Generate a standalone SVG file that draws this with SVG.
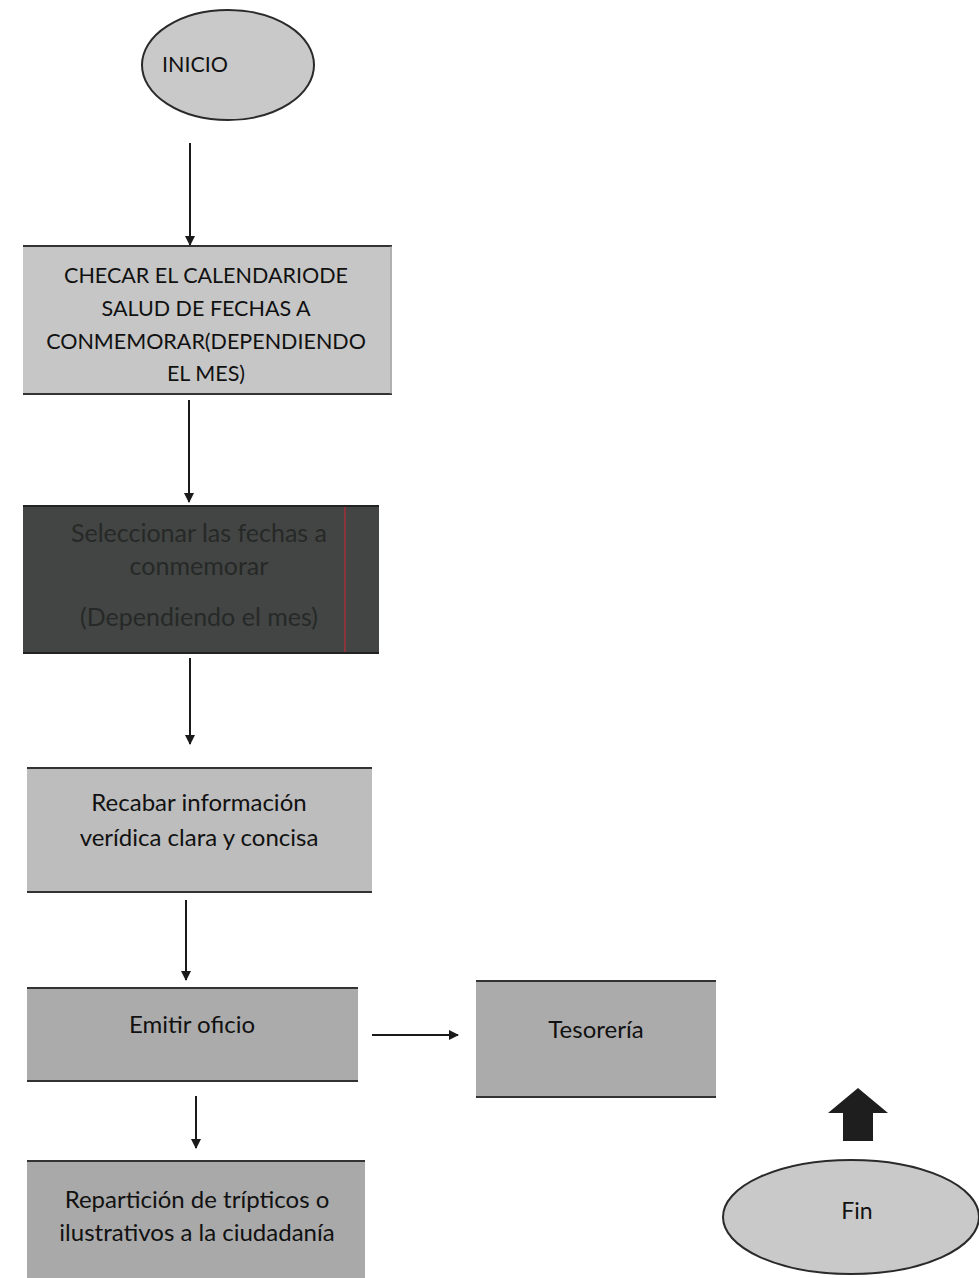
<svg xmlns="http://www.w3.org/2000/svg" width="979" height="1278" viewBox="0 0 979 1278">
<style>
.t{font-family:Lato,"Open Sans","Liberation Sans",sans-serif;font-size:24px;fill:#111;text-anchor:middle}
.c{font-size:21.5px}
.d{fill:#262927;font-size:25px}
.edge{stroke:#1a1a1a;stroke-width:2;fill:none}
.hl{stroke:#333;stroke-width:2}
.vl{stroke:#999;stroke-width:1}
.ell{fill:#c9c9c9;stroke:#2a2a2a;stroke-width:2}
</style>
<defs>
<marker id="ah" markerWidth="10" markerHeight="10" refX="9" refY="5" orient="auto" markerUnits="userSpaceOnUse">
<path d="M0,0 L10,5 L0,10 Z" fill="#1a1a1a"/>
</marker>
</defs>
<rect width="979" height="1278" fill="#fff"/>
<g id="connectors">
<line class="edge" x1="190" y1="143" x2="190" y2="245" marker-end="url(#ah)"/>
<line class="edge" x1="189" y1="400" x2="189" y2="502" marker-end="url(#ah)"/>
<line class="edge" x1="190" y1="658" x2="190" y2="744" marker-end="url(#ah)"/>
<line class="edge" x1="186" y1="900" x2="186" y2="980" marker-end="url(#ah)"/>
<line class="edge" x1="372" y1="1035" x2="458" y2="1035" marker-end="url(#ah)"/>
<line class="edge" x1="196" y1="1096" x2="196" y2="1148" marker-end="url(#ah)"/>
</g>
<g id="inicio">
<ellipse class="ell" cx="228" cy="65" rx="86" ry="55"/>
<text class="t c" x="195" y="72">INICIO</text>
</g>
<g id="checar">
<rect x="23" y="245" width="369" height="150" fill="#c6c6c6"/>
<line class="hl" x1="23" y1="246" x2="392" y2="246"/>
<line class="hl" x1="23" y1="394" x2="392" y2="394"/>
<line class="vl" x1="391" y1="246" x2="391" y2="394"/>
<text class="t c" x="206" y="283">CHECAR EL CALENDARIODE</text>
<text class="t c" x="206" y="316">SALUD DE FECHAS A</text>
<text class="t c" x="206" y="349">CONMEMORAR(DEPENDIENDO</text>
<text class="t c" x="206" y="381">EL MES)</text>
</g>
<g id="seleccionar">
<rect x="23" y="505" width="356" height="149" fill="#424543"/>
<line stroke="#222" stroke-width="2" x1="23" y1="506" x2="379" y2="506"/>
<line stroke="#222" stroke-width="2" x1="23" y1="653" x2="379" y2="653"/>
<line stroke="#a0303a" stroke-width="1.5" x1="345" y1="507" x2="345" y2="652"/>
<text class="t d" x="199" y="542">Seleccionar las fechas a</text>
<text class="t d" x="199" y="575">conmemorar</text>
<text class="t d" x="199" y="626">(Dependiendo el mes)</text>
</g>
<g id="recabar">
<rect x="27" y="767" width="345" height="126" fill="#bdbdbd"/>
<line class="hl" x1="27" y1="768" x2="372" y2="768"/>
<line class="hl" x1="27" y1="892" x2="372" y2="892"/>
<text class="t" x="199" y="811">Recabar información</text>
<text class="t" x="199" y="846">verídica clara y concisa</text>
</g>
<g id="emitir">
<rect x="27" y="987" width="331" height="95" fill="#ababab"/>
<line class="hl" x1="27" y1="988" x2="358" y2="988"/>
<line class="hl" x1="27" y1="1081" x2="358" y2="1081"/>
<text class="t" x="192" y="1033">Emitir oficio</text>
</g>
<g id="tesoreria">
<rect x="476" y="980" width="240" height="118" fill="#ababab"/>
<line class="hl" x1="476" y1="981" x2="716" y2="981"/>
<line class="hl" x1="476" y1="1097" x2="716" y2="1097"/>
<text class="t" x="596" y="1038">Tesorería</text>
</g>
<g id="reparticion">
<rect x="27" y="1160" width="338" height="118" fill="#a9a9a9"/>
<line class="hl" x1="27" y1="1161" x2="365" y2="1161"/>
<text class="t" x="197" y="1208">Repartición de trípticos o</text>
<text class="t" x="197" y="1241">ilustrativos a la ciudadanía</text>
</g>
<g id="fin-arrow">
<path d="M858,1088 L888,1113 L873,1113 L873,1141 L843,1141 L843,1113 L828,1113 Z" fill="#1e1e1e"/>
</g>
<g id="fin">
<ellipse class="ell" cx="851" cy="1217" rx="128" ry="57"/>
<text class="t" x="857" y="1219" style="font-size:23px">Fin</text>
</g>
</svg>
